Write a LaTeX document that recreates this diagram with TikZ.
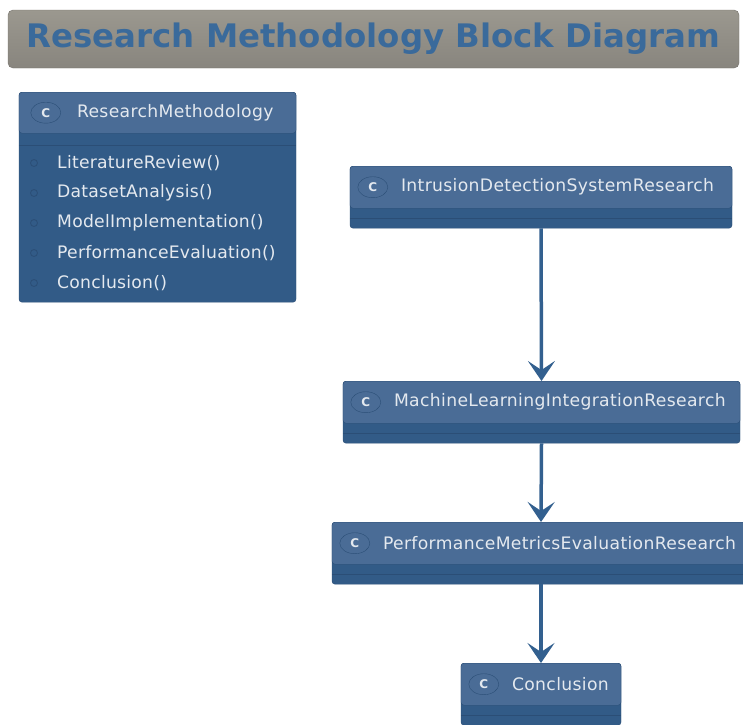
\documentclass[tikz,border=0pt]{standalone}
\usepackage{fontspec}
\setmainfont{DejaVu Sans}
\newfontfamily\clsfont[LetterSpace=2]{DejaVu Sans}
\newfontfamily\mthfont[LetterSpace=1.4]{DejaVu Sans}
\usepackage{tikz}
\usetikzlibrary{shapes.geometric,arrows.meta,positioning,calc}
\usepackage{xcolor}
\definecolor{hdr}{HTML}{4A6C96}
\definecolor{bodyblue}{HTML}{325B87}
\definecolor{edge}{HTML}{2B4E76}
\definecolor{txt}{HTML}{E4E9EF}
\definecolor{titletop}{HTML}{9B988F}
\definecolor{titlebot}{HTML}{88857E}
\definecolor{titleedge}{HTML}{74716B}
\definecolor{titletxt}{HTML}{3A6A9B}
\definecolor{arrowblue}{HTML}{33608F}

% one class box: name, centre x, top y, width, title
\newcommand{\clsbox}[5]{%
  \node[clsbody, minimum width=#4, minimum height=62, anchor=north] (#1) at (#2,#3) {};
  \node[clshead, minimum width=#4, anchor=north] (#1h) at (#1.north) {};
  \draw[clsline] ([yshift=-52pt]#1.north west) -- ([yshift=-52pt]#1.north east);
  \node[badge] at ([xshift=23pt]#1h.west) {C};
  \node[clsname, anchor=west] at ([xshift=51pt]#1h.west) {#5};
}

\begin{document}
\begin{tikzpicture}[
    x=1pt, y=-1pt,
    titlebox/.style={rectangle, draw=titleedge, rounded corners=5, top color=titletop, bottom color=titlebot,
                     minimum width=731, minimum height=58, inner sep=0, text=titletxt, font=\fontsize{32.4}{36}\selectfont\bfseries},
    clsbody/.style={rectangle, draw=edge, fill=bodyblue, rounded corners=3, inner sep=0},
    clshead/.style={rectangle, draw=edge, fill=hdr, rounded corners=3, inner sep=0, minimum height=42},
    clsline/.style={draw=edge, line width=0.8},
    badge/.style={ellipse, draw=edge, fill=hdr, minimum width=30, minimum height=21, inner sep=0,
                  text=txt, font=\fontsize{12}{14}\selectfont\bfseries},
    clsname/.style={inner sep=0, text=txt, font=\clsfont\fontsize{17.2}{20}\selectfont},
    method/.style={inner sep=0, anchor=west, text=txt, font=\mthfont\fontsize{17.2}{20}\selectfont},
    dot/.style={circle, draw=edge, line width=0.8, minimum size=7, inner sep=0},
    arrow/.style={-{Stealth[length=20, width=27, inset=9]}, line width=3.5, draw=arrowblue}
]
\useasboundingbox (0,0) rectangle (743,724);
\clip (0,0) rectangle (743,724);

\node[titlebox] (title) at (373.5,39) {Research Methodology Block Diagram};

% methods box
\node[clsbody, minimum width=277, minimum height=210, anchor=north] (RM) at (157.5,92) {};
\node[clshead, minimum width=277, minimum height=41, anchor=north] (RMh) at (RM.north) {};
\draw[clsline] ([yshift=-53pt]RM.north west) -- ([yshift=-53pt]RM.north east);
\node[badge] at ([xshift=27pt]RMh.west) {C};
\node[clsname, anchor=west] at ([xshift=58pt]RMh.west) {ResearchMethodology};
\node[dot] (d1) at (34,163) {};
\node[method] (m1) at (57,163) {LiteratureReview()};
\node[dot] (d2) at (34,193) {};
\node[method] (m2) at (57,193) {DatasetAnalysis()};
\node[dot] (d3) at (34,223) {};
\node[method] (m3) at (57,223) {ModelImplementation()};
\node[dot] (d4) at (34,253) {};
\node[method] (m4) at (57,253) {PerformanceEvaluation()};
\node[dot] (d5) at (34,283) {};
\node[method] (m5) at (57,283) {Conclusion()};

% research chain
\clsbox{IDS}{541}{166}{382}{IntrusionDetectionSystemResearch}
\clsbox{MLI}{541.5}{381}{397}{MachineLearningIntegrationResearch}
\clsbox{PME}{541}{522}{418}{PerformanceMetricsEvaluationResearch}
\clsbox{CON}{541}{663}{160}{Conclusion}

\draw[arrow] (IDS.south) -- (MLI.north);
\draw[arrow] (MLI.south) -- (PME.north);
\draw[arrow] (PME.south) -- (CON.north);
\end{tikzpicture}
\end{document}
